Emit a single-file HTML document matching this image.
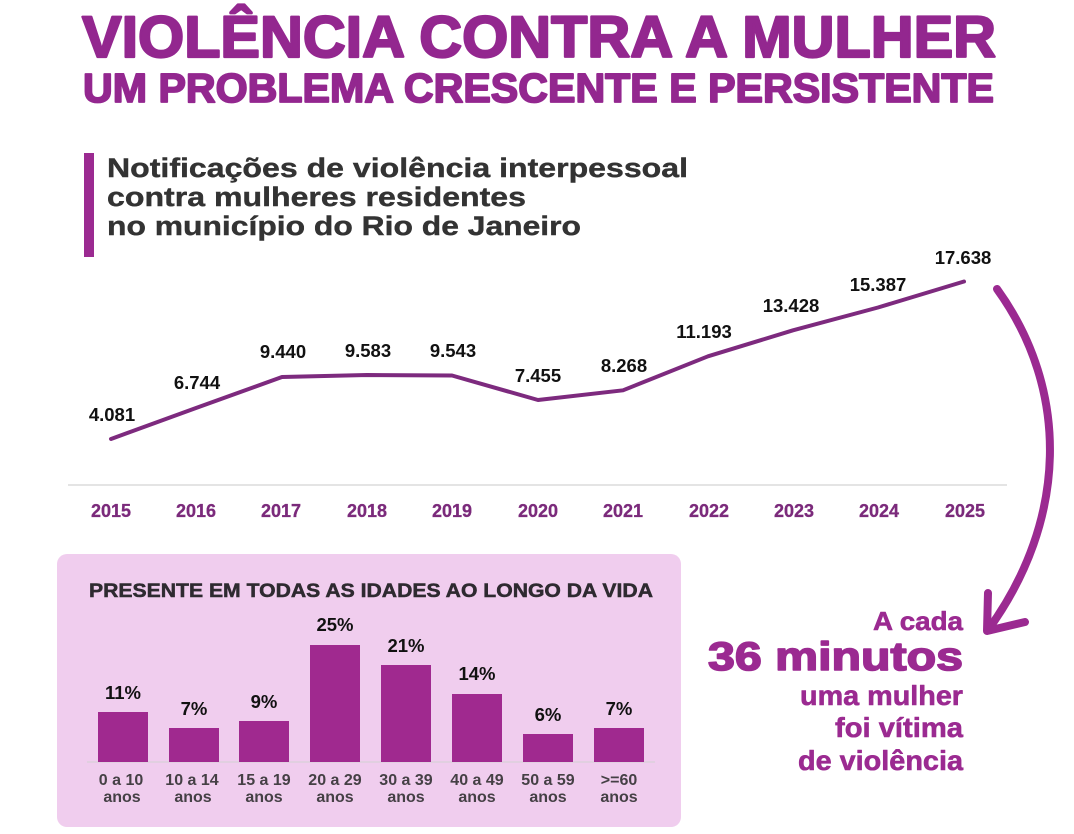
<!DOCTYPE html>
<html>
<head>
<meta charset="utf-8">
<style>
  html,body{margin:0;padding:0;background:#ffffff;}
  svg{display:block;}
  text{font-family:"Liberation Sans", Arial, sans-serif;font-weight:bold;}
</style>
</head>
<body>
<svg width="1074" height="834" viewBox="0 0 1074 834" xmlns="http://www.w3.org/2000/svg">
  <rect x="0" y="0" width="1074" height="834" fill="#ffffff"/>

  <!-- Title -->
  <text x="82" y="57" font-size="58" fill="#93278f" stroke="#93278f" stroke-width="2.2" stroke-linejoin="round" textLength="914" lengthAdjust="spacingAndGlyphs">VIOLÊNCIA CONTRA A MULHER</text>
  <text x="83" y="102" font-size="41" fill="#93278f" stroke="#93278f" stroke-width="1.8" stroke-linejoin="round" textLength="911" lengthAdjust="spacingAndGlyphs">UM PROBLEMA CRESCENTE E PERSISTENTE</text>

  <!-- Subtitle -->
  <rect x="84" y="153" width="10" height="104" fill="#9b2a91"/>
  <g font-size="27" fill="#333333" stroke="#333333" stroke-width="0.4">
    <text x="107" y="177" textLength="581" lengthAdjust="spacingAndGlyphs">Notificações de violência interpessoal</text>
    <text x="107" y="206" textLength="419" lengthAdjust="spacingAndGlyphs">contra mulheres residentes</text>
    <text x="107" y="235" textLength="474" lengthAdjust="spacingAndGlyphs">no município do Rio de Janeiro</text>
  </g>

  <!-- Axis line -->
  <line x1="68" y1="485" x2="1007" y2="485" stroke="#dcdcdc" stroke-width="1.5"/>

  <!-- Line series -->
  <polyline fill="none" stroke="#7d2a7e" stroke-width="4" stroke-linejoin="round" stroke-linecap="round"
    points="111,439 196,408 282,377 367,375 452,375.5 538,400 623,390.3 708,356.3 793,330.3 878,307.5 964,281.5"/>

  <!-- Value labels -->
  <g font-size="18.5" fill="#111111" text-anchor="middle">
    <text x="112" y="421">4.081</text>
    <text x="197" y="389">6.744</text>
    <text x="283" y="358">9.440</text>
    <text x="368" y="357">9.583</text>
    <text x="453" y="357">9.543</text>
    <text x="538" y="382">7.455</text>
    <text x="624" y="372">8.268</text>
    <text x="704" y="338">11.193</text>
    <text x="791" y="312">13.428</text>
    <text x="878" y="291">15.387</text>
    <text x="963" y="264">17.638</text>
  </g>

  <!-- Year labels -->
  <g font-size="18" fill="#7b2a7b" stroke="#7b2a7b" stroke-width="0.3" text-anchor="middle">
    <text x="111" y="517">2015</text>
    <text x="196" y="517">2016</text>
    <text x="281" y="517">2017</text>
    <text x="367" y="517">2018</text>
    <text x="452" y="517">2019</text>
    <text x="538" y="517">2020</text>
    <text x="623" y="517">2021</text>
    <text x="709" y="517">2022</text>
    <text x="794" y="517">2023</text>
    <text x="879" y="517">2024</text>
    <text x="965" y="517">2025</text>
  </g>

  <!-- Curved arrow -->
  <path d="M997,289 C1070,390 1068,520 988,630" fill="none" stroke="#9b2a91" stroke-width="8" stroke-linecap="round"/>
  <path d="M988,593 L987,631 L1025,622" fill="none" stroke="#9b2a91" stroke-width="8" stroke-linecap="round" stroke-linejoin="round"/>

  <!-- Right text -->
  <g fill="#9b2a91" stroke="#9b2a91" text-anchor="end" stroke-linejoin="round">
    <text x="963" y="630" font-size="26" stroke-width="0.6" textLength="90" lengthAdjust="spacingAndGlyphs">A cada</text>
    <text x="963" y="670" font-size="40" stroke-width="1.6" textLength="255" lengthAdjust="spacingAndGlyphs">36 minutos</text>
    <text x="963" y="705" font-size="28" stroke-width="0.6" textLength="163" lengthAdjust="spacingAndGlyphs">uma mulher</text>
    <text x="963" y="737" font-size="28" stroke-width="0.6" textLength="128" lengthAdjust="spacingAndGlyphs">foi vítima</text>
    <text x="963" y="770" font-size="28" stroke-width="0.6" textLength="165" lengthAdjust="spacingAndGlyphs">de violência</text>
  </g>

  <!-- Bottom panel -->
  <rect x="57" y="554" width="624" height="273" rx="10" ry="10" fill="#f0cdee"/>
  <text x="89" y="597" font-size="19" fill="#2e2a30" stroke="#2e2a30" stroke-width="0.5" textLength="564" lengthAdjust="spacingAndGlyphs">PRESENTE EM TODAS AS IDADES AO LONGO DA VIDA</text>

  <line x1="87" y1="762" x2="655" y2="762" stroke="#dcd0db" stroke-width="1.5"/>

  <g fill="#a0298f">
    <rect x="98" y="712" width="50" height="50"/>
    <rect x="169" y="728" width="50" height="34"/>
    <rect x="239" y="721" width="50" height="41"/>
    <rect x="310" y="645" width="50" height="117"/>
    <rect x="381" y="665" width="50" height="97"/>
    <rect x="452" y="694" width="50" height="68"/>
    <rect x="523" y="734" width="50" height="28"/>
    <rect x="594" y="728" width="50" height="34"/>
  </g>

  <g font-size="18.5" fill="#111111" text-anchor="middle">
    <text x="123" y="699">11%</text>
    <text x="194" y="715">7%</text>
    <text x="264" y="708">9%</text>
    <text x="335" y="631">25%</text>
    <text x="406" y="652">21%</text>
    <text x="477" y="680">14%</text>
    <text x="548" y="721">6%</text>
    <text x="619" y="715">7%</text>
  </g>

  <g font-size="16" fill="#454045" text-anchor="middle">
    <text x="121" y="785">0 a 10</text>
    <text x="192" y="785">10 a 14</text>
    <text x="264" y="785">15 a 19</text>
    <text x="335" y="785">20 a 29</text>
    <text x="406" y="785">30 a 39</text>
    <text x="477" y="785">40 a 49</text>
    <text x="548" y="785">50 a 59</text>
    <text x="619" y="785">&gt;=60</text>
    <text x="122" y="802">anos</text>
    <text x="193" y="802">anos</text>
    <text x="264" y="802">anos</text>
    <text x="335" y="802">anos</text>
    <text x="406" y="802">anos</text>
    <text x="477" y="802">anos</text>
    <text x="548" y="802">anos</text>
    <text x="619" y="802">anos</text>
  </g>
</svg>
</body>
</html>
